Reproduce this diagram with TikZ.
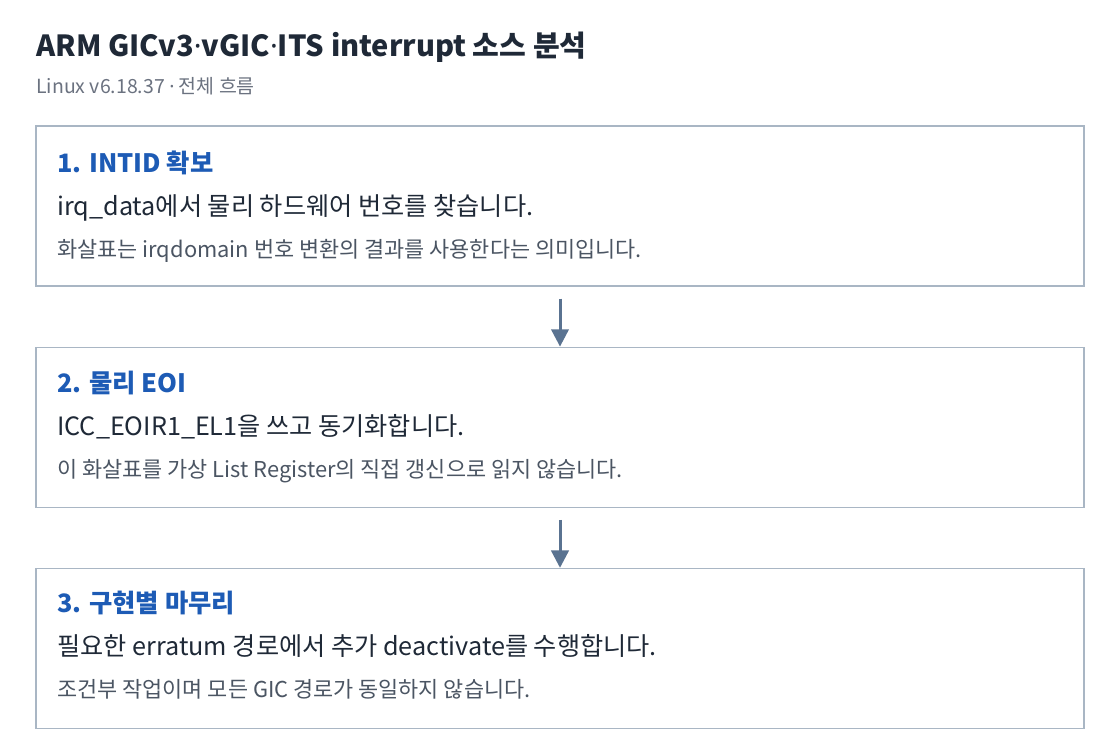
\documentclass[tikz,border=0pt]{standalone}
\usepackage{fontspec}
\setmainfont{Noto Sans CJK KR}
\newfontfamily\dotfont{Noto Sans}
\usetikzlibrary{arrows.meta,positioning}

\definecolor{inkdark}{HTML}{1F2937}
\definecolor{subgray}{HTML}{6B7280}
\definecolor{notegray}{HTML}{4B5563}
\definecolor{headblue}{HTML}{1D5BB5}
\definecolor{boxline}{HTML}{A9B6C4}
\definecolor{arrowblue}{HTML}{5A7391}

\newcommand{\mdot}{{\dotfont ·}}

\begin{document}
\begin{tikzpicture}[x=0.75pt, y=-0.75pt,
    stepbox/.style={draw=boxline, line width=0.9pt, fill=white, minimum width=786pt, minimum height=120pt, inner sep=0pt},
    steptitle/.style={anchor=base west, inner sep=0pt, text=headblue, font=\bfseries\fontsize{19}{22}\selectfont},
    stepbody/.style={anchor=base west, inner sep=0pt, text=inkdark, font=\fontsize{18.9}{22}\selectfont},
    stepnote/.style={anchor=base west, inner sep=0pt, text=notegray, font=\fontsize{16.4}{19}\selectfont},
    flow/.style={draw=arrowblue, line width=2.25pt, -{Triangle[length=13pt,width=13pt]}}]
    % Fix the page to the reference size
    \useasboundingbox[fill=white] (0,0) rectangle (1120,754);

    % Title and subtitle
    \node[anchor=base west, inner sep=0pt, text=inkdark, font=\bfseries\fontsize{21.8}{25}\selectfont] (title) at (36,56) {ARM GICv3\mdot vGIC\mdot ITS interrupt 소스 분석};
    \node[anchor=base west, inner sep=0pt, text=subgray, font=\fontsize{14.6}{17}\selectfont] (subtitle) at (36,93) {Linux v6.18.37 \mdot{} 전체 흐름};

    % Draw the three step boxes
    \node[stepbox] (intid) at (560,206) {};
    \node[stepbox, below=45pt of intid] (eoi) {};
    \node[stepbox, below=45pt of eoi] (finish) {};

    % Step 1
    \node[steptitle] (intidhead) at (57,172) {1. INTID 확보};
    \node[stepbody] (intidbody) at (57,215) {irq\_data에서 물리 하드웨어 번호를 찾습니다.};
    \node[stepnote] (intidnote) at (57,257) {화살표는 irqdomain 번호 변환의 결과를 사용한다는 의미입니다.};

    % Step 2
    \node[steptitle] (eoihead) at (57,392) {2. 물리 EOI};
    \node[stepbody] (eoibody) at (57,435) {ICC\_EOIR1\_EL1을 쓰고 동기화합니다.};
    \node[stepnote] (eoinote) at (57,477) {이 화살표를 가상 List Register의 직접 갱신으로 읽지 않습니다.};

    % Step 3
    \node[steptitle] (finishhead) at (57,612) {3. 구현별 마무리};
    \node[stepbody] (finishbody) at (57,655) {필요한 erratum 경로에서 추가 deactivate를 수행합니다.};
    \node[stepnote] (finishnote) at (57,697) {조건부 작업이며 모든 GIC 경로가 동일하지 않습니다.};

    % Arrows between the steps
    \draw[flow] ([yshift=-9pt]intid.south) -- (eoi.north);
    \draw[flow] ([yshift=-9pt]eoi.south) -- (finish.north);
\end{tikzpicture}
\end{document}
